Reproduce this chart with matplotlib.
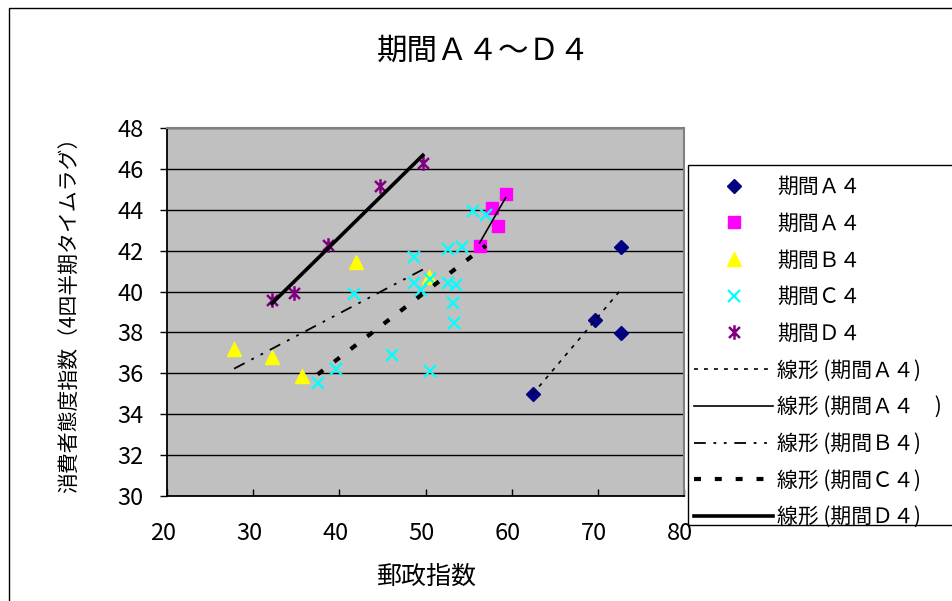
import numpy as np
import matplotlib
matplotlib.use('Agg')
import matplotlib.pyplot as plt
import matplotlib.transforms as mtransforms
from matplotlib.path import Path
from matplotlib.patches import Rectangle

plt.rcParams['font.family'] = ['Noto Sans CJK JP', 'DejaVu Sans']
plt.rcParams['lines.scale_dashes'] = False

# ---- data ----
a4_x = [72.67, 69.65, 72.67, 62.44]
a4_y = [42.18, 38.59, 37.99, 34.98]
a4b_x = [59.30, 57.67, 58.37, 56.28]
a4b_y = [44.77, 44.08, 43.20, 42.23]
b4_x = [27.79, 32.17, 35.66, 41.98, 50.35]
b4_y = [37.17, 36.78, 35.85, 41.46, 40.73]
c4_x = [37.48, 39.62, 41.66, 46.13, 48.64, 48.64, 49.42, 50.58, 50.58,
        52.64, 54.24, 52.64, 53.52, 53.14, 53.34, 55.47, 57.01]
c4_y = [35.55, 36.23, 39.88, 36.91, 41.69, 40.42, 40.10, 40.61, 36.12,
        42.10, 42.17, 40.42, 40.32, 39.45, 38.47, 43.92, 43.76]
d4_x = [32.17, 34.69, 38.69, 44.77, 49.69]
d4_y = [39.61, 39.94, 42.29, 45.14, 46.31]

series_labels = ['期間Ａ４', '期間Ａ４', '期間Ｂ４', '期間Ｃ４', '期間Ｄ４']
trend_labels = ['線形 (期間Ａ４)', '線形 (期間Ａ４　)', '線形 (期間Ｂ４)',
                '線形 (期間Ｃ４)', '線形 (期間Ｄ４)']
x_ticks = [20, 30, 40, 50, 60, 70, 80]
y_ticks = [30, 32, 34, 36, 38, 40, 42, 44, 46, 48]
title = '期間Ａ４～Ｄ４'
x_label = '郵政指数'
y_label = '消費者態度指数（4四半期タイムラグ）'

# ---- styles ----
W, H = 952, 601
star = Path([(0, -1), (0, 1), (-0.75, -0.75), (0.75, 0.75), (-0.75, 0.75), (0.75, -0.75)],
            [Path.MOVETO, Path.LINETO, Path.MOVETO, Path.LINETO, Path.MOVETO, Path.LINETO])
marker_styles = [
    dict(marker='D', color='#000080', markersize=7.2, linestyle='none'),
    dict(marker='s', color='#FF00FF', markersize=8.2, linestyle='none'),
    dict(marker='^', color='#FFFF00', markersize=10, linestyle='none'),
    dict(marker='x', color='#00FFFF', markersize=8.6, markeredgewidth=1.6, linestyle='none'),
    dict(marker=star, color='#800080', markersize=10.5, markeredgewidth=1.8, linestyle='none'),
]
trend_styles = [
    dict(color='black', linewidth=1.2, linestyle=(0, (2.8, 4.4))),
    dict(color='black', linewidth=1.2, linestyle='-'),
    dict(color='black', linewidth=1.3, linestyle=(0, (8.5, 5.5, 2.0, 5.5, 2.0, 5.5))),
    dict(color='black', linewidth=3.0, linestyle=(0, (5.0, 10.0))),
    dict(color='black', linewidth=2.6, linestyle='-'),
]

fig = plt.figure(figsize=(W / 100, H / 100), dpi=100)
fig.patch.set_facecolor('white')

# outer chart border
fig.add_artist(Rectangle((9 / W, -0.1), 1.2, 1 - 8 / H + 0.1, transform=fig.transFigure,
                         fill=False, edgecolor='black', linewidth=1.0, zorder=-2))

L, R, T, B = 167, 684, 128, 496
ax = fig.add_axes([L / W, 1 - B / H, (R - L) / W, (B - T) / H])
ax.set_facecolor('#C0C0C0')
ax.set_xlim(20, 80)
ax.set_ylim(30, 48)
ax.set_xticks(x_ticks)
ax.set_yticks(y_ticks)
ax.yaxis.grid(True, color='black', linewidth=1.0)
ax.set_axisbelow(True)
for s in ['left', 'bottom']:
    ax.spines[s].set_color('black')
    ax.spines[s].set_linewidth(1.3)
for s in ['top', 'right']:
    ax.spines[s].set_color('#808080')
    ax.spines[s].set_linewidth(1.5)
ax.tick_params(axis='x', direction='in', length=5, width=1, labelsize=17, pad=19)
ax.tick_params(axis='y', direction='out', length=5, width=1, labelsize=17, pad=12)
shift = mtransforms.ScaledTranslation(-4 / 100, 0, fig.dpi_scale_trans)
for lab in ax.get_xticklabels():
    lab.set_transform(lab.get_transform() + shift)

xs_all = [a4_x, a4b_x, b4_x, c4_x, d4_x]
ys_all = [a4_y, a4b_y, b4_y, c4_y, d4_y]
handles = []
for xs, ys, st in zip(xs_all, ys_all, marker_styles):
    h, = ax.plot(xs, ys, zorder=3, clip_on=False, **st)
    handles.append(h)
thandles = []
for xs, ys, st in zip(xs_all, ys_all, trend_styles):
    xs = np.asarray(xs); ys = np.asarray(ys)
    k, b = np.polyfit(xs, ys, 1)
    xx = np.array([xs.min(), xs.max()])
    h, = ax.plot(xx, k * xx + b, zorder=4, **st)
    thandles.append(h)

fig.text(484 / W, 1 - 51 / H, title, fontsize=22, ha='center', va='center')
fig.text(426 / W, 1 - 577 / H, x_label, fontsize=18, ha='center', va='center')
fig.text(70 / W, 1 - 310 / H, y_label, fontsize=15, ha='center', va='center', rotation=90)

# legend box (extends beyond the right edge like the reference)
fig.add_artist(Rectangle((688 / W, 1 - 525 / H), (980 - 688) / W, (525 - 165) / H,
                         transform=fig.transFigure, facecolor='white', edgecolor='black',
                         linewidth=1.0, zorder=-1))
leg = fig.legend(handles + thandles, series_labels + trend_labels, loc='upper left',
                 bbox_to_anchor=(694 / W, 1 - 176 / H), frameon=False, fontsize=15,
                 handlelength=3.8, handletextpad=0.2, labelspacing=0.705,
                 borderpad=0.0, borderaxespad=0, numpoints=1)
leg.set_zorder(6)

fig.savefig('out.png', dpi=100)
